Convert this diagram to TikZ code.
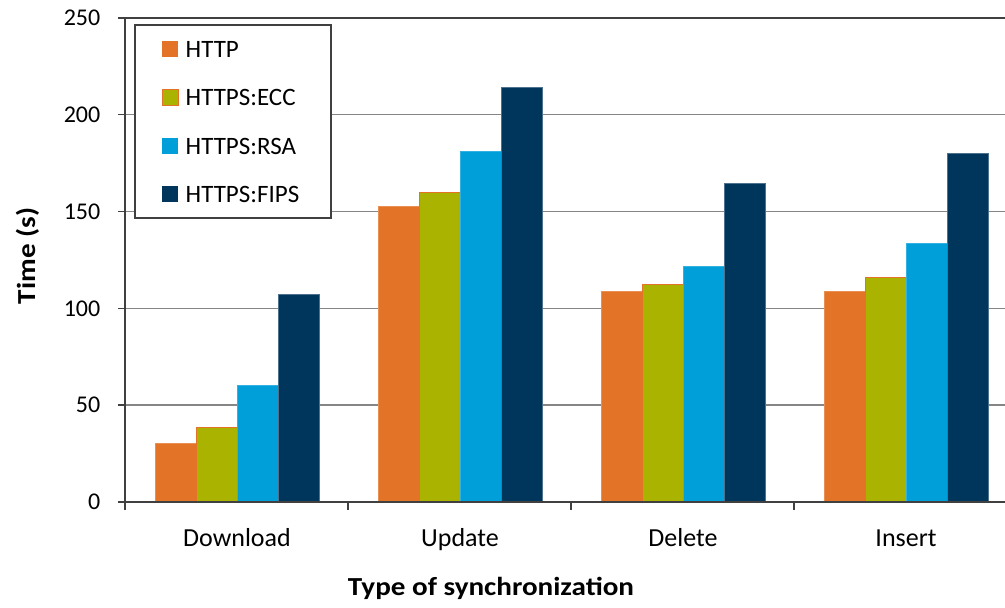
\documentclass[tikz,border=0pt]{standalone}
\usepackage{fontspec}
\setmainfont{Carlito}
\definecolor{httpcol}{HTML}{E37326}
\definecolor{ecccol}{HTML}{AAB400}
\definecolor{rsacol}{HTML}{009FDA}
\definecolor{fipscol}{HTML}{00355C}
\definecolor{gridcol}{HTML}{868686}
\definecolor{axiscol}{HTML}{404040}

\begin{document}
\begin{tikzpicture}[x=1pt,y=1pt,
  font=\fontsize{24}{28}\selectfont,
  every node/.style={inner sep=0pt},
  line width=1.4pt,
  bar/.style={line width=.8pt},
  keybox/.style={minimum size=16pt,line width=.8pt},
  keytext/.style={anchor=west,font=\fontsize{25}{30}\selectfont},
  catlabel/.style={anchor=base,font=\fontsize{26}{30}\selectfont},
  axtitle/.style={anchor=base,
    font=\fontsize{26}{30}\selectfont\bfseries\addfontfeature{FakeStretch=1.12}}]
\path[use as bounding box] (0,0) rectangle (1005,608);

% grid and axes
\foreach \v in {1,2,3,4}
  \draw[gridcol] (125,106+96.8*\v)--(1005,106+96.8*\v);
\draw[axiscol] (118,590)--(1005,590);
\foreach \v/\t in {0/0,1/50,2/100,3/150,4/200,5/250}{
  \draw[axiscol] (118,106+96.8*\v)--(125,106+96.8*\v);
  \node[anchor=east] (tick\t) at (101,106+96.8*\v) {\t};
}

% bars
\begin{scope}[shift={(125,106)},yscale=1.936]
\foreach \g/\a/\b/\c/\d in {0/30.5/38.4/60.3/107.4,1/152.9/160/181.3/214.4,
                            2/108.6/112.2/121.7/164.6,3/109/116.2/133.6/179.9}{
  \filldraw[bar,fill=httpcol,draw=httpcol!80!white]
    (30.7+223*\g,0) rectangle ++(40.8,\a);
  \filldraw[bar,fill=ecccol,draw=httpcol]
    (71.5+223*\g,0) rectangle ++(40.8,\b);
  \filldraw[bar,fill=rsacol,draw=rsacol!80!white]
    (112.3+223*\g,0) rectangle ++(40.8,\c);
  \filldraw[bar,fill=fipscol,draw=fipscol!70!white]
    (153.1+223*\g,0) rectangle ++(40.8,\d);
}
\end{scope}

\draw[axiscol] (125,106)--(125,590);
\draw[axiscol] (125,106)--(1005,106);
\foreach \x in {125,348,571,794}
  \draw[axiscol] (\x,106)--(\x,98);

\node[catlabel] (catdl) at (237,61.3) {Download};
\node[catlabel] (catup) at (460,61.3) {Update};
\node[catlabel] (catdel) at (683,61.3) {Delete};
\node[catlabel] (catins) at (906,61.3) {Insert};

\node[axtitle] (xtitle) at (491,12) {Type of synchronization};
\node[axtitle,rotate=90] (ytitle) at (35,352) {Time (s)};

% legend
\draw[axiscol,fill=white,line width=1.2pt] (135,390) rectangle (331,583);
\node[keybox,fill=httpcol] (khttp) at (170,558.7) {};
\node[keytext] (lhttp) at (185,558.7) {HTTP};
\node[keybox,fill=ecccol,draw=httpcol] (kecc) at (170,510.7) {};
\node[keytext] (lecc) at (185,510.7) {HTTPS:ECC};
\node[keybox,fill=rsacol] (krsa) at (170,462) {};
\node[keytext] (lrsa) at (185,462) {HTTPS:RSA};
\node[keybox,fill=fipscol] (kfips) at (170,414) {};
\node[keytext] (lfips) at (185,414) {HTTPS:FIPS};
\end{tikzpicture}
\end{document}
